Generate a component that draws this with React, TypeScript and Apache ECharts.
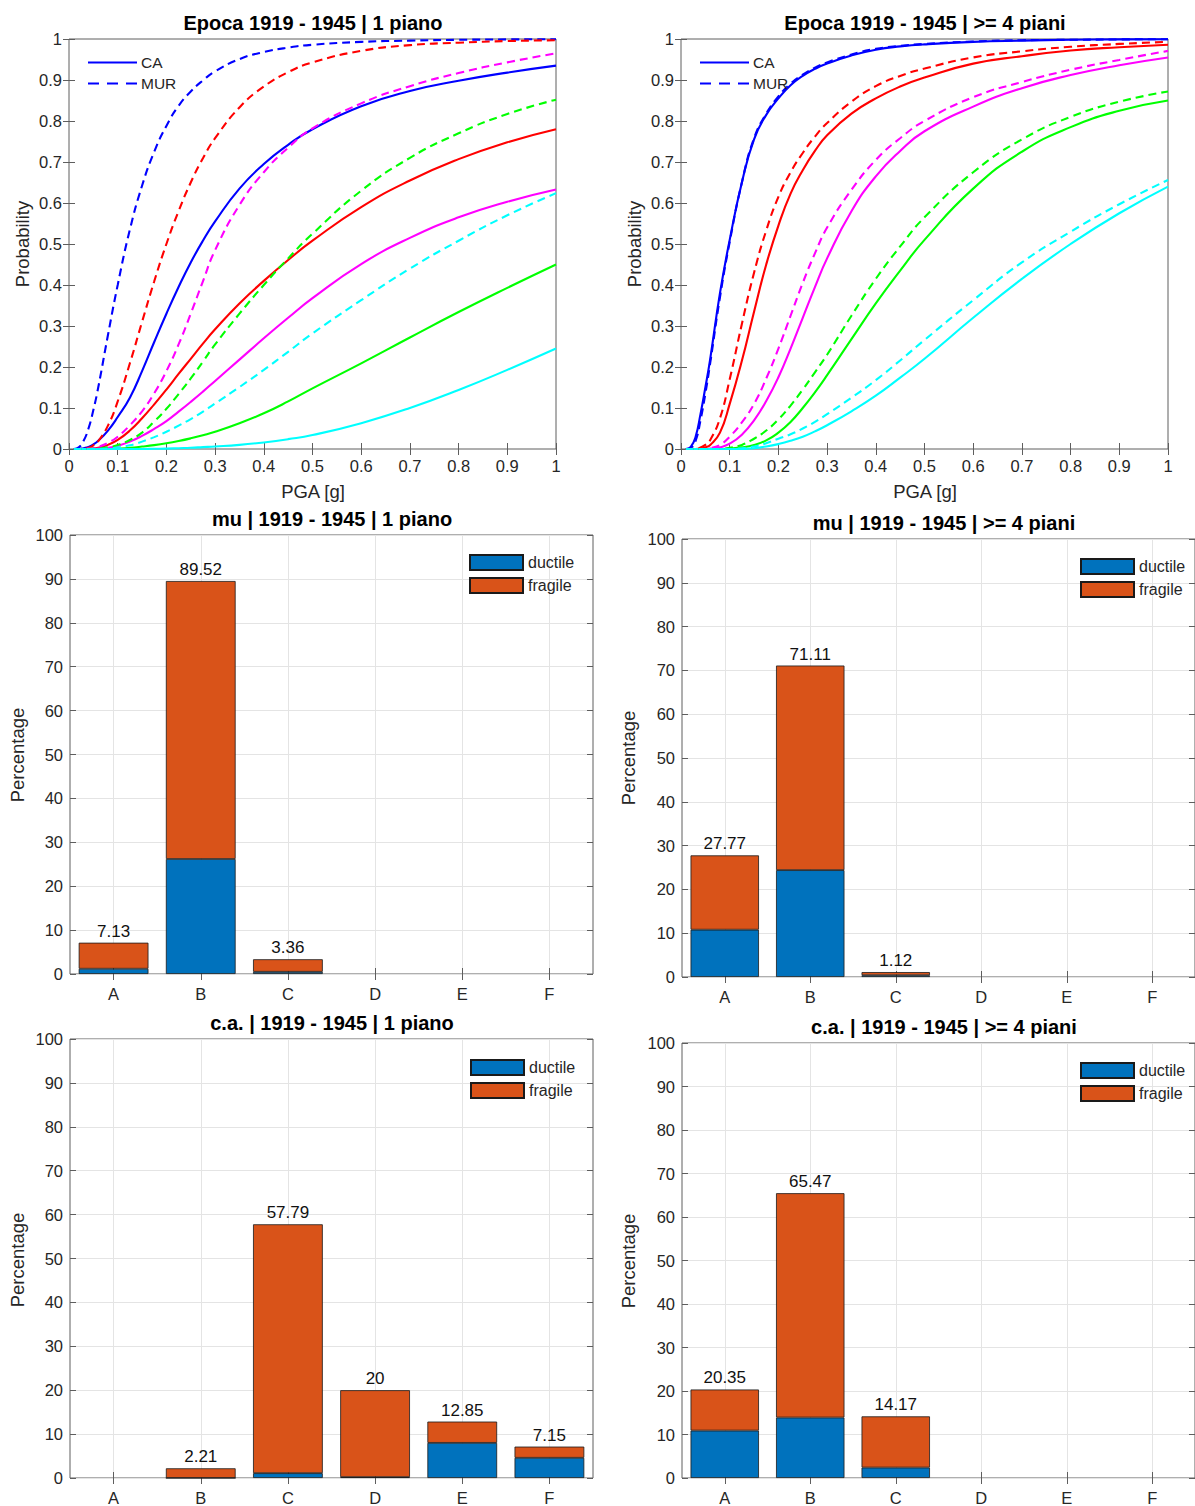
import React, { useEffect, useRef } from "react";
import * as echarts from "echarts";

// ---------- data ----------
const PGA = [0.01, 0.02, 0.03, 0.04, 0.05, 0.06, 0.08, 0.1, 0.125, 0.15, 0.175, 0.2, 0.225, 0.25, 0.275, 0.3, 0.35, 0.4, 0.45, 0.5, 0.6, 0.7, 0.8, 0.9, 1.0];

// Epoca 1919 - 1945 | 1 piano
const tlCaD1 = [0, 0, 0.002, 0.005, 0.011, 0.02, 0.045, 0.078, 0.125, 0.19, 0.261, 0.33, 0.395, 0.455, 0.508, 0.555, 0.635, 0.695, 0.742, 0.78, 0.836, 0.873, 0.898, 0.918, 0.935];
const tlCaD2 = [0, 0, 0, 0.0005, 0.001, 0.003, 0.01, 0.022, 0.045, 0.075, 0.109, 0.145, 0.183, 0.22, 0.257, 0.292, 0.355, 0.41, 0.461, 0.508, 0.59, 0.655, 0.707, 0.748, 0.78];
const tlCaD3 = [0, 0, 0, 0, 0, 0.001, 0.003, 0.008, 0.018, 0.032, 0.049, 0.068, 0.091, 0.115, 0.14, 0.166, 0.218, 0.27, 0.32, 0.368, 0.451, 0.515, 0.565, 0.603, 0.633];
const tlCaD4 = [0, 0, 0, 0, 0, 0, 0, 0.001, 0.003, 0.006, 0.0095, 0.014, 0.0195, 0.026, 0.0335, 0.042, 0.063, 0.087, 0.116, 0.148, 0.209, 0.272, 0.334, 0.393, 0.45];
const tlCaD5 = [0, 0, 0, 0, 0, 0, 0, 0, 0, 0, 0.0005, 0.001, 0.002, 0.003, 0.0045, 0.006, 0.01, 0.016, 0.024, 0.034, 0.063, 0.1, 0.144, 0.193, 0.245];
const tlMurD1 = [0, 0.004, 0.02, 0.05, 0.095, 0.15, 0.278, 0.4, 0.535, 0.642, 0.725, 0.788, 0.837, 0.872, 0.899, 0.921, 0.951, 0.968, 0.979, 0.986, 0.993, 0.996, 0.998, 0.999, 0.9995];
const tlMurD2 = [0, 0, 0.001, 0.003, 0.009, 0.019, 0.057, 0.116, 0.209, 0.31, 0.409, 0.5, 0.58, 0.65, 0.709, 0.758, 0.833, 0.884, 0.919, 0.943, 0.971, 0.985, 0.991, 0.995, 0.997];
const tlMurD3 = [0, 0, 0, 0.001, 0.002, 0.005, 0.015, 0.03, 0.058, 0.092, 0.136, 0.19, 0.255, 0.33, 0.409, 0.485, 0.595, 0.675, 0.735, 0.782, 0.843, 0.885, 0.917, 0.943, 0.965];
const tlMurD4 = [0, 0, 0, 0, 0.0005, 0.001, 0.004, 0.01, 0.022, 0.04, 0.067, 0.098, 0.134, 0.172, 0.213, 0.255, 0.33, 0.4, 0.465, 0.525, 0.63, 0.71, 0.77, 0.817, 0.852];
const tlMurD5 = [0, 0, 0, 0, 0, 0, 0.001, 0.004, 0.009, 0.018, 0.029, 0.042, 0.057, 0.073, 0.091, 0.111, 0.151, 0.193, 0.237, 0.282, 0.363, 0.44, 0.508, 0.57, 0.624];

// Epoca 1919 - 1945 | >= 4 piani
const trCaD1 = [0, 0.005, 0.03, 0.085, 0.15, 0.22, 0.38, 0.51, 0.65, 0.755, 0.815, 0.855, 0.887, 0.91, 0.927, 0.94, 0.96, 0.974, 0.982, 0.987, 0.993, 0.996, 0.998, 0.999, 0.9995];
const trCaD2 = [0, 0, 0, 0.001, 0.004, 0.01, 0.04, 0.11, 0.215, 0.335, 0.45, 0.545, 0.623, 0.68, 0.727, 0.765, 0.818, 0.855, 0.884, 0.906, 0.94, 0.958, 0.972, 0.98, 0.986];
const trCaD3 = [0, 0, 0, 0, 0, 0.001, 0.004, 0.013, 0.035, 0.07, 0.117, 0.175, 0.245, 0.32, 0.395, 0.465, 0.58, 0.665, 0.727, 0.775, 0.835, 0.88, 0.912, 0.936, 0.955];
const trCaD4 = [0, 0, 0, 0, 0, 0, 0, 0.001, 0.004, 0.01, 0.021, 0.04, 0.066, 0.1, 0.138, 0.18, 0.268, 0.355, 0.435, 0.51, 0.635, 0.725, 0.785, 0.825, 0.85];
const trCaD5 = [0, 0, 0, 0, 0, 0, 0, 0, 0, 0.002, 0.006, 0.012, 0.02, 0.03, 0.043, 0.058, 0.092, 0.13, 0.174, 0.22, 0.32, 0.415, 0.5, 0.575, 0.64];
const trMurD1 = [0, 0.003, 0.02, 0.07, 0.135, 0.21, 0.37, 0.505, 0.65, 0.758, 0.818, 0.86, 0.891, 0.913, 0.93, 0.943, 0.962, 0.976, 0.983, 0.988, 0.994, 0.997, 0.998, 0.999, 0.9995];
const trMurD2 = [0, 0, 0.001, 0.004, 0.01, 0.022, 0.075, 0.17, 0.305, 0.43, 0.533, 0.615, 0.675, 0.722, 0.762, 0.795, 0.847, 0.885, 0.91, 0.928, 0.955, 0.97, 0.981, 0.988, 0.993];
const trMurD3 = [0, 0, 0, 0, 0, 0.002, 0.01, 0.03, 0.065, 0.11, 0.172, 0.245, 0.325, 0.405, 0.477, 0.54, 0.632, 0.705, 0.758, 0.8, 0.858, 0.895, 0.925, 0.949, 0.971];
const trMurD4 = [0, 0, 0, 0, 0, 0, 0, 0.003, 0.01, 0.025, 0.045, 0.072, 0.106, 0.145, 0.187, 0.23, 0.325, 0.415, 0.494, 0.565, 0.675, 0.755, 0.81, 0.847, 0.872];
const trMurD5 = [0, 0, 0, 0, 0, 0, 0, 0, 0.002, 0.006, 0.014, 0.025, 0.036, 0.05, 0.066, 0.085, 0.125, 0.168, 0.216, 0.266, 0.363, 0.455, 0.53, 0.597, 0.656];

const CLASSES = ["A", "B", "C", "D", "E", "F"];
const muOneTotal = [7.13, 89.52, 3.36, 0, 0, 0];
const muOneDuctile = [1.2, 26.2, 0.5, 0, 0, 0];
const muFourTotal = [27.77, 71.11, 1.12, 0, 0, 0];
const muFourDuctile = [10.8, 24.4, 0.4, 0, 0, 0];
const caOneTotal = [0, 2.21, 57.79, 20, 12.85, 7.15];
const caOneDuctile = [0, 0, 1.1, 0.2, 8.0, 4.6];
const caFourTotal = [20.35, 65.47, 14.17, 0, 0, 0];
const caFourDuctile = [10.9, 13.9, 2.4, 0, 0, 0];

// ---------- style ----------
const FONT = '"Liberation Sans", Arial, Helvetica, sans-serif';
const AX = "#262626";
const FRAME = "#5e5e5e";
const GRIDLINE = "#e4e4e4";
const DASH = [8, 5];
const BLUE_BAR = "#0072BD";
const ORANGE_BAR = "#D95319";

const ICON_SOLID = "path://M0,0H49V2H0Z";
const ICON_DASHED = "path://M0,0H11V2H0Z M19,0H30V2H19Z M38,0H49V2H38Z";

type Rect = { left: number; top: number; width: number; height: number };

const RECTS: Rect[] = [
  { left: 69, top: 39, width: 487, height: 410 },
  { left: 681, top: 39, width: 487, height: 410 },
  { left: 70, top: 535, width: 523, height: 439 },
  { left: 682, top: 539, width: 522, height: 438 },
  { left: 70, top: 1039, width: 523, height: 441 },
  { left: 682, top: 1043, width: 522, height: 437 },
];

function buildOption() {
  const grid = RECTS.map((r) => ({
    ...r,
    show: true,
    borderColor: FRAME,
    borderWidth: 1,
    backgroundColor: "transparent",
  }));

  const xAxis: any[] = [];
  const yAxis: any[] = [];
  const labelStyle = { color: AX, fontSize: 16.5, fontFamily: FONT };
  const tick = { show: true, inside: true, length: 6, lineStyle: { color: FRAME, width: 1 } };

  RECTS.forEach((_, i) => {
    if (i < 2) {
      xAxis.push({
        gridIndex: i, type: "value", min: 0, max: 1, interval: 0.1, position: "bottom",
        axisLine: { show: false }, axisTick: tick, splitLine: { show: false },
        axisLabel: { ...labelStyle, margin: 8 },
      });
      xAxis.push({
        gridIndex: i, type: "value", min: 0, max: 1, interval: 0.1, position: "top",
        axisLine: { show: false }, axisTick: tick, splitLine: { show: false },
        axisLabel: { show: false },
      });
      yAxis.push({
        gridIndex: i, type: "value", min: 0, max: 1, interval: 0.1, position: "left",
        axisLine: { show: false }, axisTick: tick, splitLine: { show: false },
        axisLabel: { ...labelStyle, margin: 7 },
      });
      yAxis.push({
        gridIndex: i, type: "value", min: 0, max: 1, interval: 0.1, position: "right",
        axisLine: { show: false }, axisTick: tick, splitLine: { show: false },
        axisLabel: { show: false },
      });
    } else {
      xAxis.push({
        gridIndex: i, type: "category", data: CLASSES, position: "bottom",
        axisLine: { show: false },
        axisTick: { ...tick, alignWithLabel: true },
        splitLine: { show: true, alignWithLabel: true, lineStyle: { color: GRIDLINE, width: 1 } },
        axisLabel: { ...labelStyle, margin: 11 },
      });
      xAxis.push({
        gridIndex: i, type: "category", data: CLASSES, position: "top",
        axisLine: { show: false },
        axisTick: { ...tick, alignWithLabel: true },
        splitLine: { show: false },
        axisLabel: { show: false },
      });
      yAxis.push({
        gridIndex: i, type: "value", min: 0, max: 100, interval: 10, position: "left",
        axisLine: { show: false }, axisTick: tick,
        splitLine: { show: true, lineStyle: { color: GRIDLINE, width: 1 } },
        axisLabel: { ...labelStyle, margin: 7 },
      });
      yAxis.push({
        gridIndex: i, type: "value", min: 0, max: 100, interval: 10, position: "right",
        axisLine: { show: false }, axisTick: tick, splitLine: { show: false },
        axisLabel: { show: false },
      });
    }
  });

  const series: any[] = [];
  const curveSets = [
    {
      g: 0,
      ca: [tlCaD1, tlCaD2, tlCaD3, tlCaD4, tlCaD5],
      mur: [tlMurD1, tlMurD2, tlMurD3, tlMurD4, tlMurD5],
    },
    {
      g: 1,
      ca: [trCaD1, trCaD2, trCaD3, trCaD4, trCaD5],
      mur: [trMurD1, trMurD2, trMurD3, trMurD4, trMurD5],
    },
  ];
  const curveColors = ["#0000FF", "#FF0000", "#FF00FF", "#00FF00", "#00FFFF"];
  curveSets.forEach((set) => {
    const mk = (vals: number[], k: number, dashed: boolean) => ({
      type: "line",
      name: k === 0 ? (dashed ? "MUR" : "CA") : (dashed ? "MUR D" : "CA D") + (k + 1),
      xAxisIndex: set.g * 2,
      yAxisIndex: set.g * 2,
      data: PGA.map((x, j) => [x, vals[j]]),
      symbol: "none",
      showSymbol: false,
      smooth: 0.5,
      silent: true,
      lineStyle: { color: curveColors[k], width: 2.1, type: dashed ? DASH : "solid" },
      itemStyle: { color: curveColors[k], borderWidth: 0 },
      z: dashed ? 3 : 2,
    });
    set.ca.forEach((v, k) => series.push(mk(v, k, false)));
    set.mur.forEach((v, k) => series.push(mk(v, k, true)));
  });

  const barSets = [
    { g: 2, total: muOneTotal, ductile: muOneDuctile },
    { g: 3, total: muFourTotal, ductile: muFourDuctile },
    { g: 4, total: caOneTotal, ductile: caOneDuctile },
    { g: 5, total: caFourTotal, ductile: caFourDuctile },
  ];
  barSets.forEach((b) => {
    const ductile = b.ductile.map((d, k) => (b.total[k] > 0 ? d : null));
    const fragile = b.total.map((t, k) => (t > 0 ? Math.round((t - b.ductile[k]) * 100) / 100 : null));
    const edge = { borderColor: "#1a1a1a", borderWidth: 0.8 };
    series.push({
      type: "bar",
      name: "ductile",
      stack: "s" + b.g,
      xAxisIndex: b.g * 2,
      yAxisIndex: b.g * 2,
      barWidth: "80%",
      data: ductile,
      itemStyle: { color: BLUE_BAR, ...edge },
      silent: true,
    });
    series.push({
      type: "bar",
      name: "fragile",
      stack: "s" + b.g,
      xAxisIndex: b.g * 2,
      yAxisIndex: b.g * 2,
      barWidth: "80%",
      data: fragile,
      itemStyle: { color: ORANGE_BAR, ...edge },
      silent: true,
      label: {
        show: true,
        position: "top",
        distance: 3,
        color: "#111",
        fontSize: 17,
        fontFamily: FONT,
        formatter: (p: any) => (b.total[p.dataIndex] > 0 ? String(b.total[p.dataIndex]) : ""),
      },
    });
  });

  const lineLegend = (left: number) => ({
    left, top: 52, orient: "vertical", padding: 0,
    data: [
      { name: "CA", icon: ICON_SOLID },
      { name: "MUR", icon: ICON_DASHED },
    ],
    itemWidth: 49, itemHeight: 2, itemGap: 0, selectedMode: false,
    itemStyle: { borderWidth: 0 },
    textStyle: { color: AX, fontSize: 15.5, fontFamily: FONT, lineHeight: 21, padding: [0, 0, 0, -1] },
  });
  const barLegend = (left: number, top: number) => ({
    left, top, orient: "vertical", padding: 0, data: ["ductile", "fragile"], icon: "rect",
    itemWidth: 53, itemHeight: 15, itemGap: 6, selectedMode: false,
    textStyle: { color: AX, fontSize: 16, fontFamily: FONT, lineHeight: 15 },
  });
  const legend = [
    lineLegend(88),
    lineLegend(700),
    barLegend(469, 554),
    barLegend(1080, 558),
    barLegend(470, 1059),
    barLegend(1080, 1062),
  ];

  const txt = (text: string, x: number, y: number, size: number, bold = false, rot = 0) => ({
    type: "text",
    x, y, rotation: rot, silent: true,
    style: {
      text, fill: bold ? "#000" : AX, fontSize: size, fontWeight: bold ? "bold" : "normal",
      fontFamily: FONT, align: "center", verticalAlign: "middle",
    },
  });
  const R = Math.PI / 2;
  const graphic = [
    txt("Epoca 1919 - 1945 | 1 piano", 313, 23, 20, true),
    txt("Epoca 1919 - 1945 | >= 4 piani", 925, 23, 20, true),
    txt("mu | 1919 - 1945 | 1 piano", 332, 519, 20, true),
    txt("mu | 1919 - 1945 | >= 4 piani", 944, 523, 20, true),
    txt("c.a. | 1919 - 1945 | 1 piano", 332, 1023, 20, true),
    txt("c.a. | 1919 - 1945 | >= 4 piani", 944, 1027, 20, true),
    txt("Probability", 22, 244, 18.5, false, R),
    txt("Probability", 634, 244, 18.5, false, R),
    txt("PGA [g]", 313, 491, 18.5),
    txt("PGA [g]", 925, 491, 18.5),
    txt("Percentage", 17, 755, 18.5, false, R),
    txt("Percentage", 628, 758, 18.5, false, R),
    txt("Percentage", 17, 1260, 18.5, false, R),
    txt("Percentage", 628, 1261, 18.5, false, R),
  ];

  return {
    animation: false,
    backgroundColor: "#ffffff",
    textStyle: { fontFamily: FONT },
    grid,
    xAxis,
    yAxis,
    legend,
    series,
    graphic,
  };
}

export default function App() {
  const ref = useRef<HTMLDivElement>(null);
  useEffect(() => {
    if (!ref.current) return;
    const chart = echarts.init(ref.current, undefined, { renderer: "svg" });
    chart.setOption(buildOption() as any);
    return () => chart.dispose();
  }, []);
  return (
    <div
      ref={ref}
      style={{ position: "absolute", left: 0, top: 0, width: 1195, height: 1506, background: "#fff" }}
    />
  );
}
